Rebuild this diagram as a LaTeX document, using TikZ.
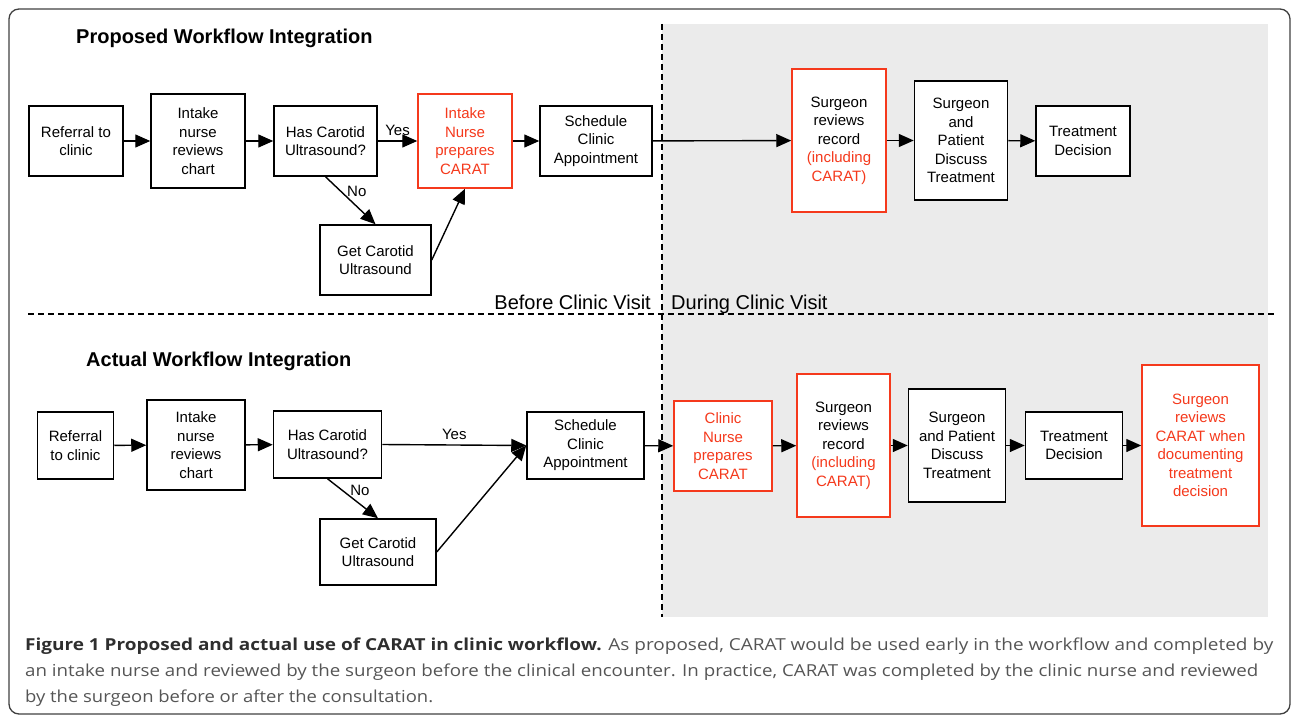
\documentclass[tikz,border=0pt]{standalone}
\usepackage{fontspec}
\setmainfont{Liberation Sans}
\newfontfamily\capfont{Open Sans}
\usetikzlibrary{arrows.meta}
\definecolor{carat}{HTML}{F5391C}
\definecolor{zone}{HTML}{EBEBEB}
\definecolor{capdark}{HTML}{2E2E2E}
\definecolor{caplight}{HTML}{555555}
\begin{document}
\begin{tikzpicture}[x=1pt,y=-1pt,
  box/.style={draw=black, line width=1.5pt, fill=white, align=center, inner sep=0pt,
    font=\fontsize{15}{18.5}\selectfont, text=black},
  redbox/.style={box, draw=carat},
  arr/.style={line width=1.4pt, -{Triangle[length=15pt,width=13pt]}},
  dashln/.style={line width=1.2pt, dash pattern=on 6pt off 4pt},
  lbl/.style={font=\fontsize{15}{18}\selectfont, inner sep=0pt},
  ttl/.style={font=\fontsize{20}{24}\selectfont\bfseries, inner sep=0pt},
  zonelbl/.style={font=\fontsize{20}{24}\selectfont, inner sep=0pt},
  capline/.style={font=\capfont\fontsize{16.5}{26}\selectfont, text=caplight, inner sep=0pt, anchor=base west}
]
\useasboundingbox (0,0) rectangle (1292,717);
% frame
\draw[rounded corners=10pt, line width=1.3pt, draw=black!75] (9,9) rectangle (1290,714);
% during-visit zone
\fill[zone] (662,24) rectangle (1268,617);
\draw[dashln] (662,24) -- (662,617);
\draw[dashln] (28,314) -- (1277,314);
\node[zonelbl, anchor=base east] (before) at (651,309) {Before Clinic Visit};
\node[zonelbl, anchor=base west] (during) at (671,309) {During Clinic Visit};

% titles
\node[ttl, anchor=base west] (t1) at (76,44) {Proposed Workflow Integration};
\node[ttl, anchor=base west] (t2) at (86,366) {Actual Workflow Integration};

% proposed row
\node[box, minimum width=94pt, minimum height=70pt] (r1) at (76,141) {Referral to\\clinic};
\node[box, minimum width=94pt, minimum height=94pt] (i1) at (198,141) {Intake\\nurse\\reviews\\chart};
\node[box, minimum width=103pt, minimum height=70pt] (h1) at (325.5,141) {Has Carotid\\Ultrasound?};
\node[redbox, text=carat, minimum width=94pt, minimum height=94pt] (c1) at (465,141) {Intake\\Nurse\\prepares\\CARAT};
\node[box, minimum width=112pt, minimum height=70pt] (s1) at (596,141) {Schedule\\Clinic\\Appointment};
\node[box, minimum width=111pt, minimum height=70pt] (g1) at (375.5,260) {Get Carotid\\Ultrasound};
\node[redbox, minimum width=94pt, minimum height=143pt] (sr1) at (839,140.5) {Surgeon\\reviews\\record\\\textcolor{carat}{(including}\\\textcolor{carat}{CARAT)}};
\node[box, minimum width=93pt, minimum height=119pt] (sp1) at (961,140.5) {Surgeon\\and\\Patient\\Discuss\\Treatment};
\node[box, minimum width=94pt, minimum height=70pt] (td1) at (1083,141) {Treatment\\Decision};

\draw[arr] (r1) -- (i1);
\draw[arr] (i1) -- (h1);
\draw[arr] (h1) -- node[lbl, above=5pt] (yes1) {Yes} (c1);
\draw[arr] (c1) -- (s1);
\draw[arr] (s1) -- (sr1);
\draw[arr] (sr1) -- (sp1);
\draw[arr] (sp1) -- (td1);
\draw[arr] (h1.south) -- node[lbl, pos=0.3, right=6pt] (no1) {No} (g1.north);
\draw[arr] (g1.east) -- (c1.south);

% actual row
\node[box, minimum width=76pt, minimum height=67pt] (r2) at (75.5,445.5) {Referral\\to clinic};
\node[box, minimum width=98pt, minimum height=90pt] (i2) at (196,445) {Intake\\nurse\\reviews\\chart};
\node[box, minimum width=108pt, minimum height=67pt] (h2) at (327.5,444.5) {Has Carotid\\Ultrasound?};
\node[box, minimum width=117pt, minimum height=67pt] (s2) at (585.5,445.5) {Schedule\\Clinic\\Appointment};
\node[box, minimum width=116pt, minimum height=66pt] (g2) at (378,552) {Get Carotid\\Ultrasound};
\node[redbox, text=carat, minimum width=98pt, minimum height=90pt] (cn2) at (723,446) {Clinic\\Nurse\\prepares\\CARAT};
\node[redbox, minimum width=93pt, minimum height=143pt] (sr2) at (843.5,445.5) {Surgeon\\reviews\\record\\\textcolor{carat}{(including}\\\textcolor{carat}{CARAT)}};
\node[box, minimum width=97pt, minimum height=113pt] (sp2) at (957,445.5) {Surgeon\\and Patient\\Discuss\\Treatment};
\node[box, minimum width=97pt, minimum height=67pt] (td2) at (1074,445.5) {Treatment\\Decision};
\node[redbox, text=carat, minimum width=117pt, minimum height=161pt] (fc2) at (1200.5,445.5) {Surgeon\\reviews\\CARAT when\\documenting\\treatment\\decision};

\draw[arr] (r2) -- (i2);
\draw[arr] (i2) -- (h2);
\draw[arr] (h2.east) -- node[lbl, above=5pt] (yes2) {Yes} (s2.west);
\draw[arr] (h2.south) -- node[lbl, pos=0.3, right=7pt] (no2) {No} (g2.north);
\draw[arr] (g2.east) -- (s2.west);
\draw[arr] (s2) -- (cn2);
\draw[arr] (cn2) -- (sr2);
\draw[arr] (sr2) -- (sp2);
\draw[arr] (sp2) -- (td2);
\draw[arr] (td2) -- (fc2);

% caption
\node[capline] (cap1) at (25,650) {\resizebox{1248pt}{\height}{\textcolor{capdark}{\bfseries Figure 1 Proposed and actual use of CARAT in clinic workflow.} As proposed, CARAT would be used early in the workflow and completed by}};
\node[capline] (cap2) at (25,676) {\resizebox{1233pt}{\height}{an intake nurse and reviewed by the surgeon before the clinical encounter. In practice, CARAT was completed by the clinic nurse and reviewed}};
\node[capline] (cap3) at (25,702) {\resizebox{408pt}{\height}{by the surgeon before or after the consultation.}};
\end{tikzpicture}
\end{document}
